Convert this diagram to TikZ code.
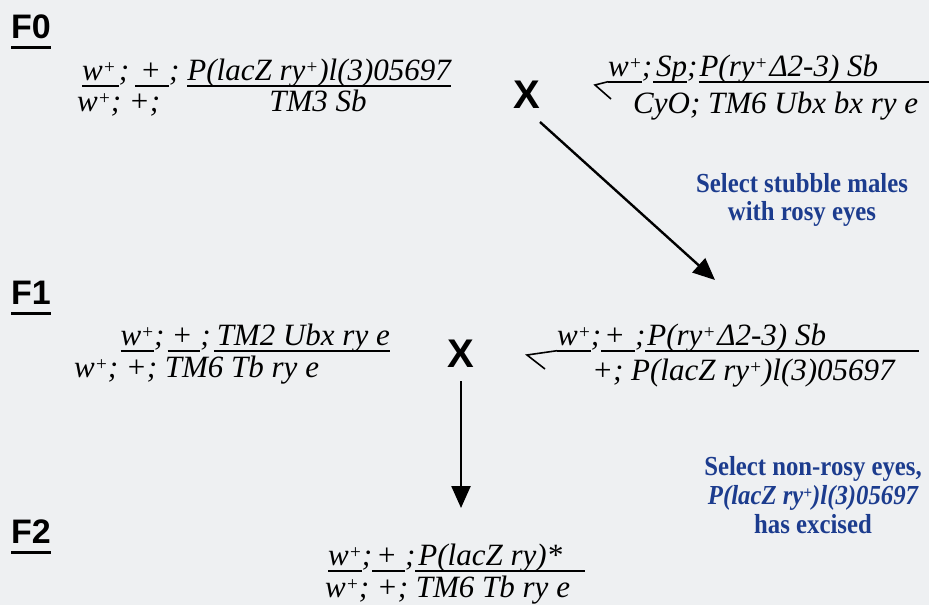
\documentclass[tikz,border=0pt]{standalone}
\usepackage{fontspec}
\usepackage{graphicx}
\setmainfont{Liberation Serif}
\newfontfamily\labelfont{Liberation Sans}
\newfontfamily\selfont{Liberation Serif}[FakeStretch=0.9]
\usetikzlibrary{arrows.meta}
\definecolor{bgc}{HTML}{EEF0F2}
\definecolor{selblue}{HTML}{1C3C8E}
\newcommand\spl{\raisebox{.2em}{\scalebox{.62}{+}}}
\newcommand\gbar[2][]{\setbox0=\hbox{#2}\ifx\relax#1\relax\dimen0=\wd0 \else\dimen0=#1\fi\rlap{\rule[-6.5pt]{\dimen0}{1.6pt}}\box0 }
\begin{document}
\begin{tikzpicture}[x=1pt,y=-1pt,
  geno/.style={inner sep=0pt, font=\fontsize{31}{36}\selectfont\itshape},
  lab/.style={inner sep=0pt, font=\labelfont\bfseries\fontsize{34}{40}\selectfont},
  cross/.style={inner sep=0pt, font=\labelfont\bfseries\fontsize{40}{46}\selectfont},
  sel/.style={inner sep=0pt, text=selblue, font=\selfont\bfseries\fontsize{27.5}{32}\selectfont},
  arr/.style={line width=2.4pt, -{Triangle[length=22pt,width=19pt]}},
  hookline/.style={line width=1.6pt},
  uline/.style={line width=3pt}]
\fill[bgc] (0,0) rectangle (929,605);
\useasboundingbox (0,0) rectangle (929,605);

% generation labels
\node[lab, anchor=base west] (F0) at (11,38) {F0};
\draw[uline] ([yshift=-9pt]F0.base west) -- ([yshift=-9pt]F0.base east);
\node[lab, anchor=base west] (F1) at (11,304) {F1};
\draw[uline] ([yshift=-9pt]F1.base west) -- ([yshift=-9pt]F1.base east);
\node[lab, anchor=base west] (F2) at (11,543) {F2};
\draw[uline] ([yshift=-9pt]F2.base west) -- ([yshift=-9pt]F2.base east);

% F0 female
\node[geno, anchor=base west] (f0ftop) at (82,80)
  {\gbar{w\spl\kern3pt};\kern6pt\gbar{\kern5pt+\kern8pt};\kern8pt\gbar{P(lacZ ry\spl)l(3)05697}};
\node[geno, anchor=base west] (f0fbl) at (77,111) {w\spl; +;};
\node[geno, anchor=base] (f0fbr) at (318,111) {TM3 Sb};

% cross 1
\node[cross, anchor=base] (x1) at (527,108) {X};

% F0 male
\node[geno, anchor=base west] (f0mtop) at (608,76)
  {\gbar{w\spl};\kern1pt\gbar{\kern3pt Sp};\kern1pt\gbar[240pt]{\kern1pt P(ry\spl\kern2pt\char"0394 2-3) Sb}};
\node[geno, anchor=base west] (f0mbot) at (633,113) {CyO; TM6 Ubx bx ry e};
\coordinate (f0mtip) at (595,85);
\coordinate (f0mend) at (611,99);
\draw[hookline] ([yshift=-5.7pt]f0mtop.base west) -- (f0mtip) -- (f0mend);

% selection 1
\coordinate (a1s) at (540,122);
\coordinate (a1e) at (715,280);
\draw[arr] (a1s) -- (a1e);
\node[sel, anchor=base] (s1a) at (802,192) {Select stubble males};
\node[sel, anchor=base] (s1b) at (802,220) {with rosy eyes};

% F1 female
\node[geno, anchor=base east] (f1ftop) at (390,345)
  {\gbar{w\spl};\kern3pt\gbar{\kern4pt+\kern8pt};\kern3pt\gbar{\kern3pt TM2 Ubx ry e}};
\node[geno, anchor=base west] (f1fbot) at (74,377) {w\spl; +; TM6 Tb ry e};

% cross 2
\node[cross, anchor=base] (x2) at (461,367) {X};

% F1 male
\node[geno, anchor=base west] (f1mtop) at (557,345)
  {\gbar{w\spl};\gbar{\kern3pt+\kern10pt};\gbar[274pt]{\kern2pt P(ry\spl\kern2pt\char"0394 2-3) Sb}};
\node[geno, anchor=base west] (f1mbot) at (592,380) {+; P(lacZ ry\spl)l(3)05697};
\coordinate (f1mtip) at (527,355);
\coordinate (f1mend) at (545,369);
\draw[hookline] ([yshift=-5.7pt]f1mtop.base west) -- (f1mtip) -- (f1mend);

% selection 2
\coordinate (a2s) at (461,381);
\coordinate (a2e) at (461,508);
\draw[arr] (a2s) -- (a2e);
\node[sel, anchor=base] (s2a) at (813,475) {Select non-rosy eyes,};
\node[sel, anchor=base, font=\selfont\bfseries\itshape\fontsize{27.5}{32}\selectfont] (s2b) at (813,504) {P(lacZ ry\spl)l(3)05697};
\node[sel, anchor=base] (s2c) at (813,533) {has excised};

% F2
\node[geno, anchor=base west] (f2top) at (328,565)
  {\gbar{w\spl};\gbar{\kern4pt+\kern8pt};\gbar[170pt]{\kern3pt P(lacZ ry)*}};
\node[geno, anchor=base west] (f2bot) at (325,597) {w\spl; +; TM6 Tb ry e};
\end{tikzpicture}
\end{document}
